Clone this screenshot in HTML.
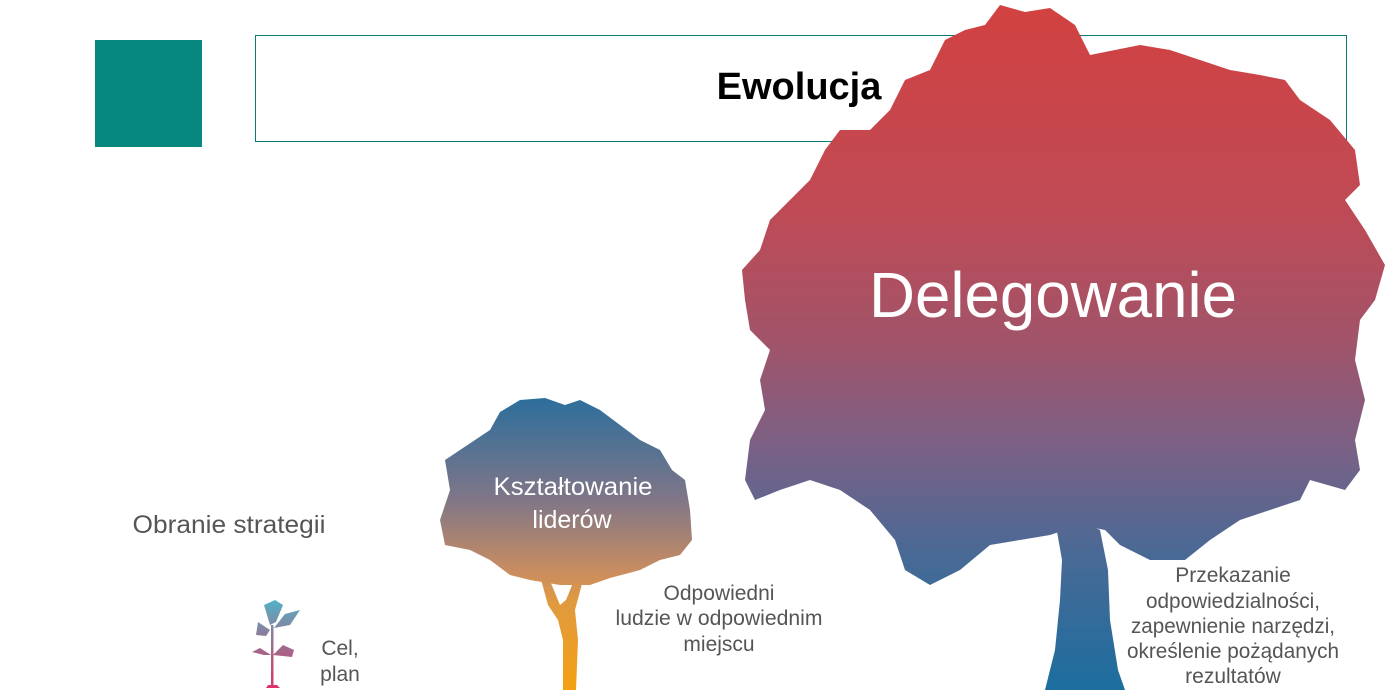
<!DOCTYPE html>
<html><head><meta charset="utf-8"><style>
html,body{margin:0;padding:0;background:#fff;width:1388px;height:700px;overflow:hidden}
svg{display:block}
text{font-family:"Liberation Sans",sans-serif}
</style></head><body>
<svg width="1388" height="700" viewBox="0 0 1388 700" xmlns="http://www.w3.org/2000/svg">
<defs>
<linearGradient id="big" x1="0" y1="2" x2="0" y2="690" gradientUnits="userSpaceOnUse">
<stop offset="0" stop-color="#d24140"/>
<stop offset="0.3" stop-color="#bf4a55"/>
<stop offset="0.5" stop-color="#a0546a"/>
<stop offset="0.65" stop-color="#7a6186"/>
<stop offset="0.8" stop-color="#4a6995"/>
<stop offset="1" stop-color="#1c6e9f"/>
</linearGradient>
<linearGradient id="small" x1="0" y1="395" x2="0" y2="690" gradientUnits="userSpaceOnUse">
<stop offset="0" stop-color="#2a6e9c"/>
<stop offset="0.35" stop-color="#7f7688"/>
<stop offset="0.6" stop-color="#c98d60"/>
<stop offset="0.7" stop-color="#e09a40"/>
<stop offset="1" stop-color="#f4a012"/>
</linearGradient>
<linearGradient id="sap" x1="0" y1="598" x2="0" y2="688" gradientUnits="userSpaceOnUse">
<stop offset="0" stop-color="#4fb4c8"/>
<stop offset="0.5" stop-color="#9a7090"/>
<stop offset="1" stop-color="#e0306a"/>
</linearGradient>
</defs>
<rect x="95" y="40" width="107" height="107" fill="#068880"/>
<rect x="255.5" y="35.5" width="1091" height="106" fill="#fff" stroke="#0b7a72" stroke-width="1"/>
<text x="799" y="99" font-size="38" font-weight="bold" text-anchor="middle" fill="#000">Ewolucja</text>

<!-- big tree -->
<g fill="url(#big)">
<path d="M985 25 L1000 5 L1025 12 L1050 8 L1075 25 L1090 55 L1115 50 L1140 45 L1170 50 L1200 60 L1230 70 L1260 75 L1285 80 L1300 100 L1330 120 L1355 150 L1360 185 L1345 200 L1365 230 L1385 265 L1375 300 L1360 320 L1355 360 L1365 400 L1355 440 L1360 470 L1345 490 L1310 480 L1300 500 L1270 510 L1240 520 L1210 540 L1185 560 L1150 560 L1120 545 L1105 530 L1080 525 L1050 535 L1020 540 L990 545 L960 570 L930 585 L905 570 L895 540 L870 510 L840 490 L810 480 L780 490 L755 500 L745 480 L750 440 L765 410 L760 380 L770 350 L750 330 L745 300 L742 270 L760 250 L770 220 L790 200 L810 180 L825 150 L840 130 L870 130 L890 110 L905 80 L930 70 L945 40 L965 30 Z"/>
<path d="M1052 480 L1070 486 L1078 520 L1090 525 L1100 530 L1108 570 L1110 620 L1118 670 L1125 690 L1045 690 L1055 650 L1060 600 L1062 560 L1055 520 Z"/>
</g>
<text x="1053" y="317" font-size="64" fill="#fff" text-anchor="middle" textLength="368" lengthAdjust="spacingAndGlyphs">Delegowanie</text>

<!-- small tree -->
<g fill="url(#small)">
<path d="M500 412 L520 400 L545 398 L565 405 L580 400 L600 410 L620 425 L640 440 L660 450 L672 470 L685 480 L690 510 L692 540 L680 555 L660 560 L640 570 L610 578 L590 585 L560 585 L530 580 L510 575 L490 560 L470 550 L445 545 L440 520 L450 490 L445 460 L460 450 L475 440 L490 430 Z"/>
<path d="M540 576 L548 576 L560 605 L566 600 L575 578 L583 580 L575 610 L578 640 L576 690 L563 690 L563 640 L558 620 L548 605 Z"/>
</g>
<text x="573" y="495" font-size="25" fill="#fff" text-anchor="middle" textLength="159" lengthAdjust="spacingAndGlyphs">Kształtowanie</text>
<text x="572" y="528" font-size="25" fill="#fff" text-anchor="middle">liderów</text>

<!-- sapling -->
<g fill="url(#sap)">
<rect x="271" y="625" width="2.5" height="60"/>
<path d="M268 685 L277 685 L280 688 L266 688 Z"/>
<path d="M270 625 L264 605 L275 600 L283 605 L276 622 Z"/>
<path d="M274 628 L285 614 L300 610 L290 625 Z"/>
<path d="M270 630 L258 622 L256 635 L266 636 Z"/>
<path d="M273 655 L283 645 L294 650 L292 657 Z"/>
<path d="M271 655 L260 648 L252 652 L264 655 Z"/>
</g>

<g fill="#555" font-size="21" text-anchor="middle">
<text x="229" y="533" font-size="25" textLength="193" lengthAdjust="spacingAndGlyphs">Obranie strategii</text>
<text x="340" y="655">Cel,</text>
<text x="340" y="681">plan</text>
<text x="719" y="600">Odpowiedni</text>
<text x="719" y="625" textLength="207" lengthAdjust="spacingAndGlyphs">ludzie w odpowiednim</text>
<text x="719" y="651">miejscu</text>
<text x="1233" y="582">Przekazanie</text>
<text x="1233" y="608" textLength="174" lengthAdjust="spacingAndGlyphs">odpowiedzialności,</text>
<text x="1233" y="633" textLength="204" lengthAdjust="spacingAndGlyphs">zapewnienie narzędzi,</text>
<text x="1233" y="658" textLength="212" lengthAdjust="spacingAndGlyphs">określenie pożądanych</text>
<text x="1233" y="683">rezultatów</text>
</g>
</svg>
</body></html>
